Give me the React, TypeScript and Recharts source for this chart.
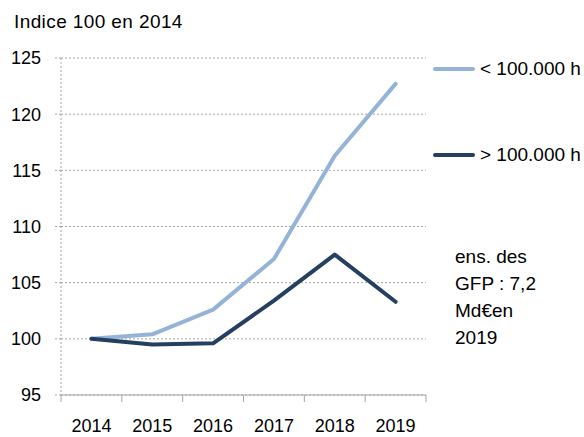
import { LineChart, Line, XAxis, YAxis, CartesianGrid } from "recharts"

const years = ["2014", "2015", "2016", "2017", "2018", "2019"]
const smallCommunes = [100, 100.4, 102.6, 107.1, 116.3, 122.7]
const bigCommunes = [100, 99.5, 99.6, 103.4, 107.5, 103.3]
const yTicks = [95, 100, 105, 110, 115, 120, 125]
const noteLines = ["ens. des", "GFP : 7,2", "Md€en", "2019"]

const series = [
  { key: "small", label: "< 100.000 h", color: "#95b3d7" },
  { key: "big", label: "> 100.000 h", color: "#243f60" },
]

const chartData = years.map((y, i) => ({
  pos: i + 0.5,
  year: y,
  small: smallCommunes[i],
  big: bigCommunes[i],
}))

const boundaryTicks = years.map((_, i) => i).concat(years.length)

const font = "'Liberation Sans', Arial, sans-serif"

function YearTick(props: any) {
  const { x, y, payload } = props
  const label = years[payload.value]
  if (!label) return null
  // labels sit in the middle of each category slot
  return (
    <text x={x + 30.4} y={y} dy="0.71em" textAnchor="middle" fontSize={18} fill="#000" fontFamily={font}>
      {label}
    </text>
  )
}

export default function App() {
  return (
    <div style={{ position: "absolute", left: 0, top: 0, width: 584, height: 437, background: "#fff", fontFamily: font }}>
      <div style={{ position: "absolute", left: 14, top: 11, fontSize: 19, letterSpacing: 0.4, color: "#000" }}>Indice 100 en 2014</div>

      <LineChart width={584} height={437} data={chartData} margin={{ top: 58, right: 158, bottom: 12, left: 0 }}>
        <CartesianGrid vertical={false} stroke="#a6a6a6" strokeDasharray="2 2" />
        <YAxis
          domain={[95, 125]}
          ticks={yTicks}
          width={61}
          axisLine={{ stroke: "#a6a6a6", strokeDasharray: "2 2" }}
          tickLine={{ stroke: "#a6a6a6", strokeDasharray: "2 2" }}
          tickSize={6}
          tickMargin={14}
          tick={{ fontSize: 18, fill: "#000", fontFamily: font }}
          interval={0}
        />
        <XAxis
          dataKey="pos"
          type="number"
          domain={[0, years.length]}
          ticks={boundaryTicks}
          interval={0}
          height={30}
          axisLine={{ stroke: "#a6a6a6" }}
          tickLine={{ stroke: "#a6a6a6" }}
          tickSize={7}
          tickMargin={17}
          tick={<YearTick />}
        />
        {series.map((s) => (
          <Line
            key={s.key}
            type="linear"
            dataKey={s.key}
            stroke={s.color}
            strokeWidth={4}
            strokeLinejoin="round"
            strokeLinecap="round"
            dot={false}
            isAnimationActive={false}
          />
        ))}
      </LineChart>

      {series.map((s, i) => (
        <div
          key={s.key}
          style={{ position: "absolute", left: 433, top: 58 + i * 86, display: "flex", alignItems: "center", fontSize: 19, color: "#000", whiteSpace: "nowrap" }}
        >
          <span style={{ display: "inline-block", width: 42, height: 4, borderRadius: 2, background: s.color, marginRight: 5 }} />
          {s.label}
        </div>
      ))}

      <div style={{ position: "absolute", left: 455, top: 243, fontSize: 19, lineHeight: "27px", color: "#000" }}>
        {noteLines.map((l) => (
          <div key={l}>{l}</div>
        ))}
      </div>
    </div>
  )
}
